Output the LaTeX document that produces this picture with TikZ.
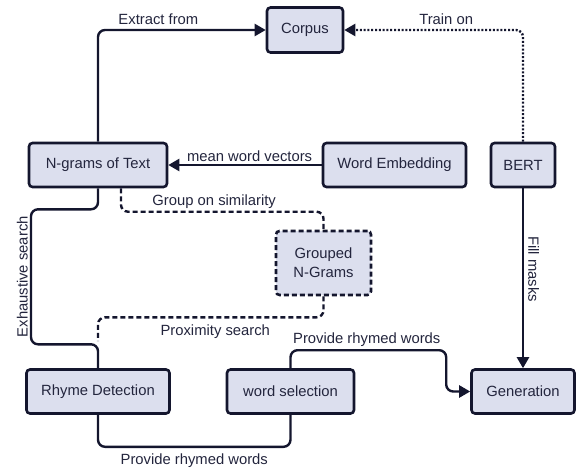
\documentclass[tikz,border=0pt]{standalone}
\usepackage{fontspec}
\setmainfont{Liberation Sans}
\usepackage{tikz}
\usetikzlibrary{shapes,arrows.meta}
\usetikzlibrary{positioning}
\usepackage{xcolor}
\definecolor{boxfill}{HTML}{DCDFEE}
\definecolor{ink}{HTML}{14162E}
\definecolor{txt}{HTML}{23253D}

\begin{document}
\begin{tikzpicture}[x=1pt, y=-1pt, on grid, font=\fontsize{14.8}{19}\selectfont,
    block/.style={draw=ink, fill=boxfill, text=txt, line width=2.6pt, rounded corners=3.5pt, minimum height=44pt, align=center, inner sep=0pt},
    dashedbox/.style={dash pattern=on 5pt off 3pt},
    conn/.style={draw=ink, line width=2.4pt, rounded corners=7pt},
    toarrow/.style={-{Triangle[length=11pt,width=12pt]}},
    dashline/.style={dash pattern=on 5pt off 3pt},
    dotline/.style={dash pattern=on 2pt off 1.8pt},
    lbl/.style={text=txt, inner sep=2pt}]
    \useasboundingbox (0,0) rectangle (576,469);
    % upper half of the pipeline
    \node[block, minimum width=138pt] (ngrams) at (98,165) {N-grams of Text};
    \node[block, minimum width=76pt, minimum height=45pt] (corpus) [above right=135pt and 207pt of ngrams] {Corpus};
    \node[block, minimum width=143pt] (embed) [right=296.5pt of ngrams] {Word Embedding};
    \node[block, minimum width=64pt] (bert) [right=425pt of ngrams] {BERT};
    \node[block, dashedbox, minimum width=95pt, minimum height=64pt] (grouped) [below right=98pt and 225.5pt of ngrams] {Grouped\\N-Grams};
    % lower half
    \node[block, minimum width=143pt] (rhyme) [below=226.5pt of ngrams] {Rhyme Detection};
    \node[block, minimum width=127pt] (wordsel) [right=192.5pt of rhyme] {word selection};
    \node[block, minimum width=103pt] (generation) [below=226.5pt of bert] {Generation};

    \draw[conn, toarrow] (ngrams.north) |- (corpus.west) node[lbl, pos=0.68, above=2pt] {Extract from};
    \draw[conn, dotline, toarrow] (bert.north) |- (corpus.east) node[lbl, pos=0.715, above=2pt] {Train on};
    \draw[conn, toarrow] (embed.west) -- (ngrams.east) node[lbl, pos=0.47, above] {mean word vectors};
    \draw[conn, dashline] ([xshift=23pt]ngrams.south) |- ([yshift=18pt]grouped.north) node[lbl, pos=0.73, above] {Group on similarity} -- (grouped.north);
    \draw[conn] (ngrams.south) -- ++(0,21) -| ++(-67,135) node[lbl, pos=0.75, rotate=90, anchor=south] {Exhaustive search} -| (rhyme.north);
    \draw[conn, dashline] (grouped.south) -- ++(0,21) -| ([yshift=27pt]rhyme.north) node[lbl, pos=0.24, below=4pt] {Proximity search};
    \draw[conn, toarrow] (bert.south) -- (generation.north) node[lbl, pos=0.45, rotate=-90, anchor=south, yshift=2pt] {Fill masks};
    \draw[conn, toarrow] (wordsel.north) -- ++(0,-18) -| ([xshift=-24pt]generation.west) node[lbl, pos=0.245, above] {Provide rhymed words} -- (generation.west);
    \draw[conn] (rhyme.south) -- ++(0,32) -| (wordsel.south) node[lbl, pos=0.25, below=4pt] {Provide rhymed words};
\end{tikzpicture}
\end{document}
